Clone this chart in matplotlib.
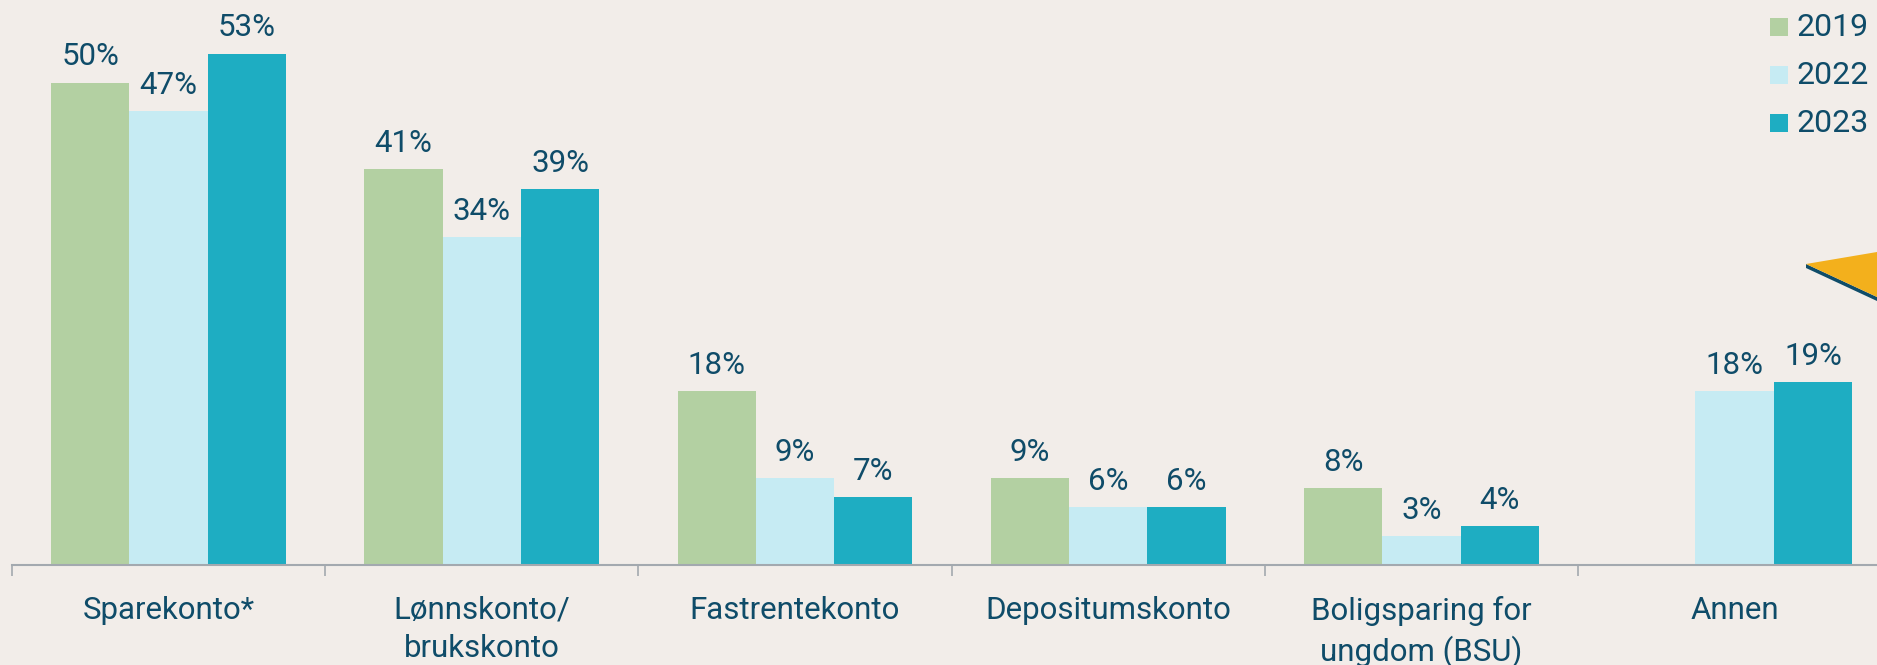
import matplotlib
matplotlib.use("Agg")
import matplotlib.pyplot as plt
from matplotlib.patches import Polygon, Rectangle
import numpy as np

categories = ["Sparekonto*", "Lønnskonto/\nbrukskonto", "Fastrentekonto",
              "Depositumskonto", "Boligsparing for\nungdom (BSU)", "Annen"]
years = ["2019", "2022", "2023"]
v2019 = [50, 41, 18, 9, 8, None]
v2022 = [47, 34, 9, 6, 3, 18]
v2023 = [53, 39, 7, 6, 4, 19]

colors = ["#B3D0A2", "#C6EBF3", "#1EADC2"]
bg = "#F2EDE9"
txt = "#0F4C69"

W, H = 1877, 665
fig = plt.figure(figsize=(W / 100, H / 100), dpi=100, facecolor=bg)
plt.rcParams['font.family'] = ['Roboto', 'DejaVu Sans']

ax = fig.add_axes([12 / W, 1 - 565 / H, 1 - 12 / W, 565 / H])
ax.set_facecolor(bg)

x = np.arange(len(categories))
bw = 0.25
for i, (vals, c) in enumerate(zip([v2019, v2022, v2023], colors)):
    off = (i - 1) * bw
    for xi, v in zip(x, vals):
        if v is None:
            continue
        ax.bar(xi + off, v, width=bw, color=c, edgecolor='none', zorder=2)
        ax.annotate(f"{v}%", (xi + off, v), xytext=(0, 8), textcoords='offset points',
                    ha='center', va='bottom', fontsize=22.5, color=txt)

for s in ["top", "right", "left"]:
    ax.spines[s].set_visible(False)
ax.spines["bottom"].set_color("#A3A9AF")
ax.spines["bottom"].set_linewidth(1.5)
ax.set_yticks([])
ax.set_xticks(x)
ax.set_xticklabels(categories, fontsize=22.5, color=txt, linespacing=1.4)
ax.set_xticks(np.arange(-0.5, len(categories)), minor=True)
ax.tick_params(axis='x', which='major', length=0, pad=22)
ax.tick_params(axis='x', which='minor', length=8, width=1.2, color="#A3A9AF")

ax.set_xlim(-0.5, (W - 12) / 313.2 - 0.5)
ax.set_ylim(0, 565 / 9.65)
ax.spines["bottom"].set_bounds(-0.5, 10)

# legend
for k, (yr, c) in enumerate(zip(years, colors)):
    yc = 27 + 48 * k
    fig.patches.append(Rectangle((1770 / W, 1 - (yc + 9) / H), 18 / W, 18 / H,
                                 transform=fig.transFigure, facecolor=c, edgecolor='none'))
    fig.text(1797 / W, 1 - yc / H, yr, fontsize=23, color=txt, ha='left', va='center')

# decorative orange pointer at the right edge
shadow = Polygon([(1806 / W, 1 - 268 / H), (1877 / W, 1 - 301 / H), (1877 / W, 1 - 297 / H),
                  (1806 / W, 1 - 264 / H)], closed=True, transform=fig.transFigure,
                 facecolor="#0F4C69", edgecolor='none')
tri = Polygon([(1806 / W, 1 - 264 / H), (1877 / W, 1 - 252 / H), (1877 / W, 1 - 297 / H)],
              closed=True, transform=fig.transFigure, facecolor="#F3B01C", edgecolor='none')
fig.patches.append(shadow)
fig.patches.append(tri)

fig.savefig("out.png", dpi=100, facecolor=bg)
